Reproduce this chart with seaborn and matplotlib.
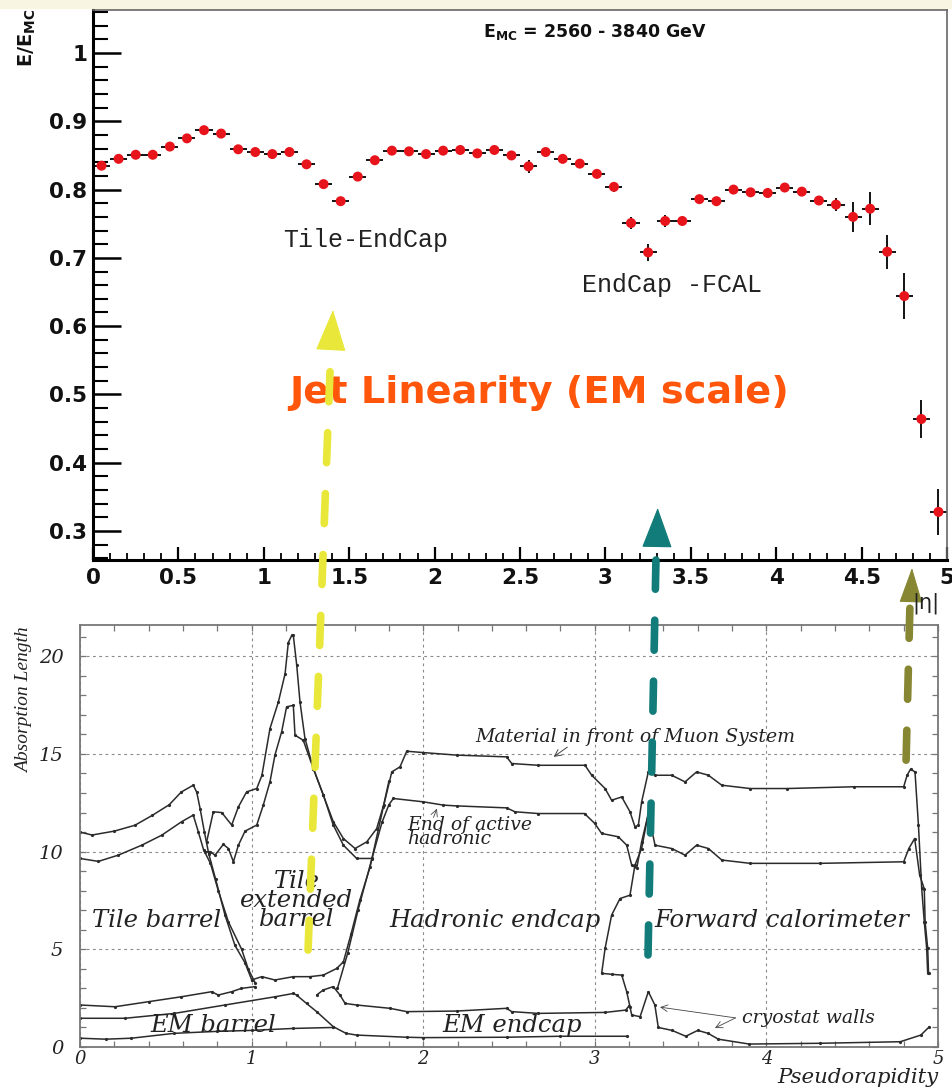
import numpy as np
import matplotlib
matplotlib.use("Agg")
import matplotlib.pyplot as plt
import seaborn as sns
from matplotlib.patches import ConnectionPatch, Rectangle
from matplotlib.ticker import MultipleLocator, FuncFormatter

# ---------------- jet response vs |eta| (upper panel) ----------------
eta_bins = [0.05, 0.15, 0.25, 0.35, 0.45, 0.55, 0.65, 0.75, 0.85, 0.95,
            1.05, 1.15, 1.25, 1.35, 1.45, 1.55, 1.65, 1.75, 1.85, 1.95,
            2.05, 2.15, 2.25, 2.35, 2.45, 2.55, 2.65, 2.75, 2.85, 2.95,
            3.05, 3.15, 3.25, 3.35, 3.45, 3.55, 3.65, 3.75, 3.85, 3.95,
            4.05, 4.15, 4.25, 4.35, 4.45, 4.55, 4.65, 4.75, 4.85, 4.95]
response = [0.835, 0.845, 0.851, 0.851, 0.863, 0.875, 0.887, 0.882, 0.859, 0.855,
            0.852, 0.855, 0.837, 0.808, 0.783, 0.819, 0.843, 0.857, 0.856, 0.852,
            0.857, 0.858, 0.853, 0.858, 0.850, 0.834, 0.855, 0.845, 0.838, 0.823,
            0.804, 0.751, 0.708, 0.754, 0.754, 0.786, 0.783, 0.800, 0.796, 0.795,
            0.803, 0.797, 0.784, 0.778, 0.760, 0.772, 0.709, 0.644, 0.464, 0.328]
response_err = [0.003, 0.003, 0.003, 0.003, 0.003, 0.003, 0.003, 0.003, 0.003, 0.003,
                0.003, 0.003, 0.003, 0.003, 0.003, 0.003, 0.003, 0.003, 0.003, 0.003,
                0.003, 0.003, 0.003, 0.003, 0.003, 0.010, 0.003, 0.003, 0.003, 0.004,
                0.007, 0.009, 0.012, 0.009, 0.005, 0.004, 0.004, 0.004, 0.004, 0.008,
                0.004, 0.004, 0.006, 0.009, 0.022, 0.024, 0.025, 0.034, 0.028, 0.034]
bin_half_width = 0.05

# ---------------- absorption lengths vs pseudorapidity (lower panel) ----------------
# Tile barrel: material in front of muon system
muon_tb_eta = [0.0, 0.07, 0.2, 0.32, 0.42, 0.52, 0.59, 0.66, 0.68, 0.70, 0.725, 0.75, 0.79, 0.845, 0.903, 0.962, 1.0]
muon_tb_val = [11.0, 10.85, 11.05, 11.35, 11.85, 12.4, 13.05, 13.4, 13.05, 12.2, 11.0, 9.9, 8.6, 6.75, 5.2, 4.3, 3.45]
# Tile barrel: end of active hadronic
hadr_tb_eta = [0.0, 0.107, 0.223, 0.36, 0.476, 0.592, 0.66, 0.69, 0.72, 0.76, 0.806, 0.865, 0.942, 0.98, 1.02]
hadr_tb_val = [9.65, 9.5, 9.82, 10.33, 10.84, 11.53, 11.87, 11.0, 10.1, 9.4, 8.0, 6.4, 5.0, 4.0, 3.3]
# Extended barrel: material in front of muon system
muon_ext_eta = [0.738, 0.777, 0.826, 0.884, 0.923, 0.971, 1.03, 1.06, 1.107, 1.156, 1.195, 1.214, 1.234,
                1.243, 1.263, 1.282, 1.311, 1.36, 1.418, 1.476, 1.535, 1.603, 1.671, 1.729, 1.77, 1.80]
muon_ext_val = [10.5, 12.04, 12.0, 11.36, 12.29, 13.06, 13.23, 13.9, 16.3, 17.66, 19.1, 20.7, 21.07,
                21.07, 19.54, 17.66, 15.79, 14.25, 12.89, 11.53, 10.67, 10.16, 10.5, 11.18, 12.4, 13.6]
# Extended barrel: end of active hadronic
hadr_ext_eta = [0.728, 0.758, 0.787, 0.835, 0.865, 0.894, 0.923, 0.962, 1.03, 1.068, 1.107, 1.136,
                1.175, 1.204, 1.243, 1.253, 1.301, 1.36, 1.418, 1.476, 1.535, 1.612, 1.70]
hadr_ext_val = [9.99, 10.0, 9.82, 10.37, 10.16, 9.48, 10.33, 11.05, 11.36, 12.38, 13.57, 14.94,
                16.13, 17.41, 17.49, 15.96, 15.7, 14.25, 12.9, 11.36, 10.33, 9.65, 9.65]
# Endcap + forward: material in front of muon system
muon_fwd_eta = [1.0, 1.059, 1.136, 1.243, 1.34, 1.418, 1.496, 1.535, 1.58, 1.63, 1.69, 1.768, 1.817,
                1.865, 1.904, 2.0, 2.195, 2.486, 2.516, 2.67, 2.943, 2.982, 3.06, 3.098, 3.157, 3.205,
                3.234, 3.254, 3.273, 3.312, 3.351, 3.448, 3.526, 3.593, 3.662, 3.74, 3.905, 4.12,
                4.51, 4.8, 4.82, 4.84, 4.866, 4.886, 4.905, 4.92, 4.934, 4.94]
muon_fwd_val = [3.43, 3.6, 3.43, 3.6, 3.6, 3.68, 4.02, 4.36, 5.8, 7.5, 9.2, 12.3, 14.08,
                14.34, 15.14, 15.07, 14.94, 14.85, 14.51, 14.42, 14.42, 13.91, 13.23, 12.63, 12.8, 12.04,
                11.27, 11.36, 12.55, 14.08, 13.91, 13.91, 13.57, 14.08, 13.91, 13.4, 13.23, 13.23,
                13.32, 13.32, 13.91, 14.22, 14.08, 11.36, 8.12, 6.41, 5.05, 3.77]
# Endcap + forward: end of active hadronic
hadr_fwd_eta = [1.50, 1.56, 1.62, 1.70, 1.76, 1.80, 1.826, 2.0, 2.118, 2.195, 2.486, 2.535, 2.67, 2.94,
                3.0, 3.04, 3.137, 3.186, 3.215, 3.244, 3.273, 3.312, 3.33, 3.351, 3.448, 3.526, 3.593,
                3.662, 3.74, 3.905, 4.31, 4.8, 4.83, 4.864, 4.893, 4.92, 4.925, 4.94, 4.945]
hadr_fwd_val = [3.0, 4.8, 7.0, 9.6, 11.5, 12.4, 12.72, 12.55, 12.38, 12.34, 12.24, 12.04, 11.95, 11.95,
                11.44, 10.93, 10.76, 10.33, 9.31, 9.14, 10.5, 11.95, 11.2, 10.33, 10.16, 9.82, 10.33,
                10.16, 9.57, 9.4, 9.4, 9.48, 10.16, 10.67, 8.8, 8.1, 6.4, 5.05, 3.77]
# FCAL front edge and cryostat walls
fcal_eta = [3.31, 3.273, 3.234, 3.205, 3.147, 3.098, 3.06, 3.04, 3.10, 3.157, 3.186, 3.205, 3.215,
            3.264, 3.312, 3.35, 3.37, 3.45, 3.53, 3.60, 3.66, 3.72, 3.9, 4.31, 4.78, 4.9, 4.95]
fcal_val = [11.87, 10.16, 9.31, 7.77, 7.6, 6.75, 5.05, 3.77, 3.72, 3.68, 2.83, 2.06, 1.64,
            1.55, 2.83, 2.15, 1.0, 0.85, 0.55, 0.85, 0.7, 0.4, 0.15, 0.19, 0.27, 0.61, 1.04]
# EM calorimeter boundaries
em_top_eta = [0.0, 0.204, 0.4, 0.59, 0.767, 0.806, 0.884, 0.94, 1.02]
em_top_val = [2.15, 2.06, 2.32, 2.57, 2.83, 2.66, 2.83, 3.0, 3.09]
em_mid_eta = [0.0, 0.262, 0.55, 0.845, 1.136, 1.243, 1.262, 1.32, 1.379, 1.476, 1.55, 1.612, 1.904,
              2.0, 2.486, 2.8, 3.19]
em_mid_val = [1.47, 1.47, 1.72, 2.15, 2.57, 2.74, 2.66, 2.23, 1.81, 1.04, 0.7, 0.61, 0.5,
              0.48, 0.5, 0.55, 0.55]
em_low_eta = [0.0, 0.15, 0.3, 0.55, 0.8, 1.0, 1.243, 1.476]
em_low_val = [0.45, 0.4, 0.45, 0.7, 0.8, 0.85, 0.95, 1.0]
em_ec_eta = [1.379, 1.418, 1.476, 1.515, 1.545, 1.612, 1.806, 1.904, 2.195, 2.486, 2.516, 2.67,
             3.06, 3.18, 3.2]
em_ec_val = [2.66, 2.92, 3.09, 2.66, 2.23, 2.15, 1.98, 1.81, 1.84, 1.98, 1.81, 1.72,
             1.77, 1.89, 2.11]

material_curves = [
    (muon_tb_eta, muon_tb_val), (hadr_tb_eta, hadr_tb_val),
    (muon_ext_eta, muon_ext_val), (hadr_ext_eta, hadr_ext_val),
    (muon_fwd_eta, muon_fwd_val), (hadr_fwd_eta, hadr_fwd_val),
    (fcal_eta, fcal_val), (em_top_eta, em_top_val), (em_mid_eta, em_mid_val),
    (em_low_eta, em_low_val), (em_ec_eta, em_ec_val),
]

region_labels = ["Tile barrel", "Tile\nextended\nbarrel", "Hadronic endcap",
                 "Forward calorimeter", "EM barrel", "EM endcap"]
region_pos = [(0.448, 6.5), (1.264, 7.5), (2.42, 6.5), (4.09, 6.5), (0.776, 1.12), (2.52, 1.12)]

# ---------------- figure ----------------
sns.set_theme(style="white")
plt.rcParams["font.family"] = ["DejaVu Sans"]
plt.rcParams["lines.scale_dashes"] = False
plt.rcParams["mathtext.fontset"] = "dejavusans"

W, H = 953, 1088
fig = plt.figure(figsize=(W / 100, H / 100), dpi=100, facecolor="white")
fig.add_artist(Rectangle((0, 1 - 8 / H), 1, 8 / H, transform=fig.transFigure,
                         color="#f9f5e3", zorder=0))

ax_top = fig.add_axes([93 / W, 1 - 560 / H, 854 / W, 550 / H])
ax_bot = fig.add_axes([80 / W, 1 - 1047 / H, 858 / W, 422 / H])

# ---- upper panel ----
ax_top.errorbar(eta_bins, response, yerr=response_err, xerr=bin_half_width, fmt="none",
                ecolor="black", elinewidth=1.3, capsize=0, zorder=2)
sns.scatterplot(x=eta_bins, y=response, ax=ax_top, color="#e8141b", s=52,
                edgecolor="none", linewidth=0, zorder=3, legend=False)
ax_top.set_xlim(0, 5)
ax_top.set_ylim(0.2575, 1.063)
ax_top.set_xlabel("")
ax_top.set_ylabel("")
ax_top.xaxis.set_major_locator(MultipleLocator(0.5))
ax_top.xaxis.set_minor_locator(MultipleLocator(0.1))
ax_top.yaxis.set_major_locator(MultipleLocator(0.1))
ax_top.yaxis.set_minor_locator(MultipleLocator(0.02))
fmt = FuncFormatter(lambda v, _: f"{round(v, 2):g}")
ax_top.xaxis.set_major_formatter(fmt)
ax_top.yaxis.set_major_formatter(fmt)
ax_top.tick_params(axis="y", which="major", direction="in", length=20, width=1.8,
                   color="black", left=True, right=False, pad=4, labelsize=15.5)
ax_top.tick_params(axis="y", which="minor", direction="in", length=11, width=1.5,
                   color="black", left=True, right=False)
ax_top.tick_params(axis="x", which="major", direction="in", length=9.5, width=1.6,
                   color="black", bottom=True, top=False, pad=6, labelsize=15.5)
ax_top.tick_params(axis="x", which="minor", direction="in", length=5, width=1.3,
                   color="black", bottom=True, top=False)
for lab in ax_top.get_xticklabels() + ax_top.get_yticklabels():
    lab.set_fontweight("bold")
    lab.set_color("#111111")
for side in ("left", "bottom"):
    ax_top.spines[side].set_color("black")
    ax_top.spines[side].set_linewidth(2.2)
for side in ("top", "right"):
    ax_top.spines[side].set_color("#666666")
    ax_top.spines[side].set_linewidth(1.2)

fig.text(27 / W, 1 - 38 / H, r"$\mathbf{E/E_{MC}}$", rotation=90, ha="center", va="center",
         fontsize=14, color="#111111")
ax_top.text(2.283, 1.031, r"$\mathbf{E_{MC}}$ = 2560 - 3840 GeV", fontsize=12.5,
            fontweight="bold", ha="left", va="center", color="#111111")
ax_top.text(1.112, 0.726, "Tile-EndCap", family="Liberation Mono", fontsize=18,
            ha="left", va="center", color="#222222")
ax_top.text(2.863, 0.660, "EndCap -FCAL", family="Liberation Mono", fontsize=18,
            ha="left", va="center", color="#222222")
ax_top.text(2.611, 0.502, "Jet Linearity (EM scale)", fontsize=27.5, fontweight="bold",
            ha="center", va="center", color="#ff560c", zorder=4)
fig.text(912 / W, 1 - 603 / H, "|η|", fontsize=15, ha="left", va="center", color="#222222")

# ---- lower panel ----
for xs, ys in material_curves:
    sns.lineplot(x=xs, y=ys, ax=ax_bot, sort=False, estimator=None, color="#2b2b2b",
                 linewidth=1.1, marker="o", markersize=2.3, markeredgewidth=0, legend=False)
ax_bot.set_xlim(0, 5)
ax_bot.set_ylim(0, 21.6)
ax_bot.set_xlabel("")
ax_bot.set_ylabel("")
ax_bot.set_facecolor("white")
ax_bot.xaxis.set_major_locator(MultipleLocator(1))
ax_bot.xaxis.set_minor_locator(MultipleLocator(0.2))
ax_bot.yaxis.set_major_locator(MultipleLocator(5))
ax_bot.yaxis.set_minor_locator(MultipleLocator(1))
ax_bot.xaxis.set_major_formatter(FuncFormatter(lambda v, _: f"{v:.0f}"))
ax_bot.yaxis.set_major_formatter(FuncFormatter(lambda v, _: f"{v:.0f}"))
ax_bot.grid(True, which="major", color="#8a8a8a", linewidth=0.8, linestyle=(0, (2, 2.5)))
ax_bot.tick_params(which="both", direction="in", length=4, width=0.9, color="#777777",
                   top=True, right=True, bottom=True, left=True)
ax_bot.tick_params(axis="y", which="major", pad=12, labelsize=14)
ax_bot.tick_params(axis="x", which="major", pad=2, labelsize=13)
for lab in ax_bot.get_xticklabels() + ax_bot.get_yticklabels():
    lab.set_family("DejaVu Serif")
    lab.set_style("italic")
    lab.set_color("#222222")
for side in ax_bot.spines.values():
    side.set_color("#777777")
    side.set_linewidth(1.3)

serif = dict(family="DejaVu Serif", style="italic", color="#222222")
for label, (x, y) in zip(region_labels, region_pos):
    ax_bot.text(x, y, label, fontsize=17.5, ha="center", va="center", linespacing=0.8, **serif)
ax_bot.text(2.302, 15.86, "Material in front of Muon System", fontsize=13.6, ha="left",
            va="center", **serif)
ax_bot.annotate("", xy=(2.76, 14.85), xytext=(2.84, 15.35),
                arrowprops=dict(arrowstyle="->", lw=0.7, color="#444444", shrinkA=0, shrinkB=0))
ax_bot.text(1.906, 11.0, "End of active\nhadronic", fontsize=13.5, ha="left", va="center",
            linespacing=0.7, **serif)
ax_bot.annotate("", xy=(2.08, 12.2), xytext=(2.06, 11.75),
                arrowprops=dict(arrowstyle="->", lw=0.6, color="#444444", shrinkA=0, shrinkB=0))
ax_bot.text(3.858, 1.48, "cryostat walls", fontsize=13.6, ha="left", va="center", **serif)
for tip in [(3.38, 2.04), (3.70, 0.97)]:
    ax_bot.annotate("", xy=tip, xytext=(3.82, 1.49),
                    arrowprops=dict(arrowstyle="->", lw=0.6, color="#444444",
                                    shrinkA=0, shrinkB=0))
fig.text(25 / W, 1 - 700 / H, "Absorption Length", rotation=90, ha="center", va="center",
         family="Liberation Serif", style="italic", fontsize=14, color="#222222")
fig.text(938 / W, 1 / H, "Pseudorapidity", ha="right", va="bottom", fontsize=15.3,
         **serif)

# ---- arrows linking detector transitions to response dips ----
links = [
    # (lower-panel start, upper-panel end, head base, head tip, colour, head length, head width)
    ((1.329, 4.96), (1.388, 0.536), (1.393, 0.568), (1.405, 0.6237), "#e9e83a", 2.74, 1.0),
    ((3.310, 4.71), (3.296, 0.2575), (3.302, 0.2795), (3.306, 0.3337), "#127c7b", 2.66, 1.0),
    ((4.814, 14.68), (4.783, 0.1917), (4.789, 0.199), (4.795, 0.2459), "#878733", 2.3, 0.76),
]
for start, end, base, tip, col, hl, hw in links:
    con = ConnectionPatch(xyA=start, coordsA=ax_bot.transData, xyB=end, coordsB=ax_top.transData,
                          color=col, linewidth=5.5, linestyle=(0, (21.6, 22.3)))
    con.set_zorder(5)
    fig.add_artist(con)
    ax_top.annotate("", xy=tip, xytext=base, annotation_clip=False,
                    arrowprops=dict(arrowstyle=f"-|>,head_length={hl},head_width={hw}",
                                    mutation_scale=10, color=col, lw=0.8,
                                    shrinkA=0, shrinkB=0, clip_on=False))

fig.savefig("out.png", dpi=100, facecolor="white")
